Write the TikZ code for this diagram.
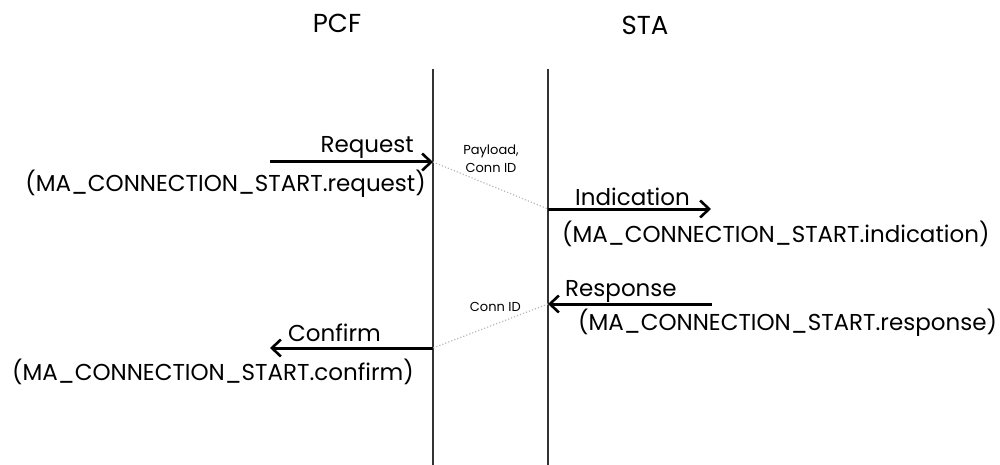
\documentclass[tikz,border=0pt]{standalone}
\usepackage{fontspec}
\setmainfont{Poppins}
\usetikzlibrary{arrows.meta}
\tikzset{
  lifeline/.style={line width=1.2pt, black!80},
  msg/.style={line width=3pt, -{Straight Barb[length=9pt,width=17pt,line width=2.6pt]}},
  relay/.style={line width=1.2pt, gray!55, dotted},
  head/.style={font=\fontsize{26}{29}\selectfont, inner sep=0pt},
  lbl/.style={font=\fontsize{23}{26}\selectfont, inner sep=0pt},
  note/.style={font=\fontsize{13}{15}\selectfont, inner sep=0pt},
}
\begin{document}
\begin{tikzpicture}[x=1pt,y=-1pt]
\useasboundingbox (0,0) rectangle (1000,465);
% entity headers
\node[head, anchor=base] (pcf) at (337,33) {PCF};
\node[head, anchor=base] (sta) at (645,35) {STA};
% lifelines
\coordinate (pcfTop) at (433,69);
\coordinate (pcfBot) at (433,465);
\coordinate (staTop) at (548,69);
\coordinate (staBot) at (548,465);
\draw[lifeline] (pcfTop) -- (pcfBot);
\draw[lifeline] (staTop) -- (staBot);
% request
\coordinate (reqS) at (270,162);
\coordinate (reqE) at (433,162);
\draw[msg] (reqS) -- (reqE);
\node[lbl, anchor=base east] (req) at (414,153) {Request};
\node[lbl, anchor=base east] (reqP) at (426,191) {(MA\_CONNECTION\_START.request)};
% relay to STA
\coordinate (indS) at (548,209);
\coordinate (indE) at (711,209);
\draw[relay] (reqE) -- (indS);
\node[note, anchor=base] (pay) at (491,155) {Payload,};
\node[note, anchor=base] (cid1) at (491,172) {Conn ID};
% indication
\draw[msg] (indS) -- (indE);
\node[lbl, anchor=base west] (ind) at (575,205) {Indication};
\node[lbl, anchor=base west] (indP) at (562,242) {(MA\_CONNECTION\_START.indication)};
% response
\coordinate (resS) at (712,304);
\coordinate (resE) at (548,304);
\draw[msg] (resS) -- (resE);
\node[lbl, anchor=base west] (res) at (565,296) {Response};
\node[lbl, anchor=base west] (resP) at (578,330) {(MA\_CONNECTION\_START.response)};
% relay to PCF
\coordinate (cnfS) at (433,348);
\coordinate (cnfE) at (270,348);
\draw[relay] (resE) -- (cnfS);
\node[note, anchor=base east] (cid2) at (521,311) {Conn ID};
% confirm
\draw[msg] (cnfS) -- (cnfE);
\node[lbl, anchor=base west] (cnf) at (288,341) {Confirm};
\node[lbl, anchor=base west] (cnfP) at (12,380) {(MA\_CONNECTION\_START.confirm)};
\end{tikzpicture}
\end{document}
